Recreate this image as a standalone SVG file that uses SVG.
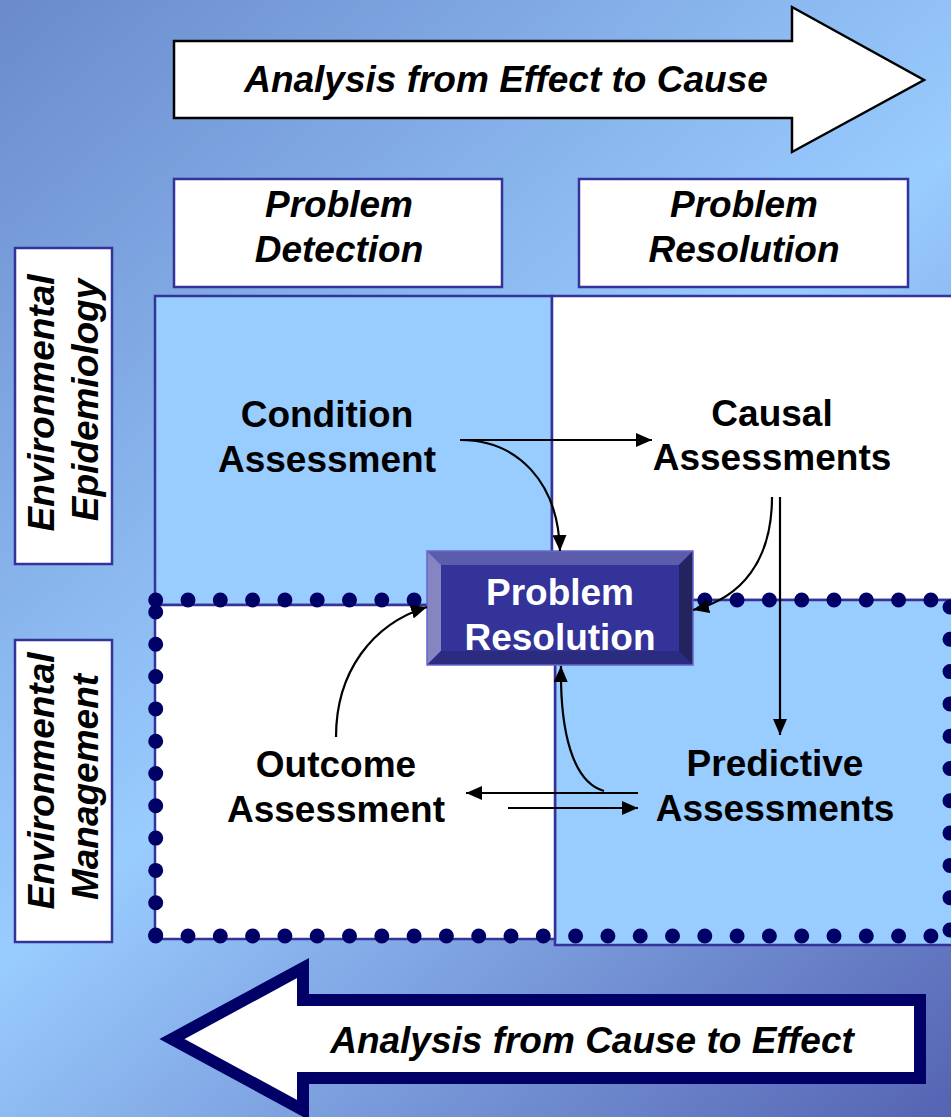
<svg xmlns="http://www.w3.org/2000/svg" width="951" height="1117" viewBox="0 0 951 1117">
<defs>
<linearGradient id="bg" x1="0" y1="0" x2="951" y2="1117" gradientUnits="userSpaceOnUse">
<stop offset="0" stop-color="#6a8acb"/>
<stop offset="0.5" stop-color="#99ccff"/>
<stop offset="1" stop-color="#5563b2"/>
</linearGradient>
<marker id="ah" viewBox="0 0 16 14" refX="16" refY="7" markerWidth="16" markerHeight="14" markerUnits="userSpaceOnUse" orient="auto">
<path d="M0,0 L16,7 L0,14 Z" fill="#000"/>
</marker>
<style>
.t{font-family:"Liberation Sans",Arial,sans-serif;font-weight:bold;font-size:37px;fill:#000;text-anchor:middle}
.i{font-style:italic}
.w{fill:#fff}
.box{fill:#fff;stroke:#333399;stroke-width:2.5}
.q{stroke:#333399;stroke-width:2.5}
.dots{fill:none;stroke:#000066;stroke-width:15;stroke-linecap:round;stroke-dasharray:0 32.3}
.c{fill:none;stroke:#000;stroke-width:2.2;marker-end:url(#ah)}
</style>
</defs>
<rect x="0" y="0" width="951" height="1117" fill="url(#bg)"/>

<g id="arrow-effect-to-cause">
<path d="M174,41 L792,41 L792,7 L924,80 L792,152 L792,118 L174,118 Z" fill="#fff" stroke="#000" stroke-width="2.5"/>
<text class="t i" x="506" y="92">Analysis from Effect to Cause</text>
</g>

<g id="arrow-cause-to-effect">
<path d="M172,1039 L303,968 L303,1000 L920,1000 L920,1078 L303,1078 L303,1110 Z" fill="#fff" stroke="#000066" stroke-width="12"/>
<text class="t i" x="592" y="1053">Analysis from Cause to Effect</text>
</g>

<g id="header-detection">
<rect class="box" x="174" y="179" width="328" height="108"/>
<text class="t i" x="339" y="217">Problem</text>
<text class="t i" x="339" y="262">Detection</text>
</g>
<g id="header-resolution">
<rect class="box" x="579" y="179" width="329" height="108"/>
<text class="t i" x="744" y="217">Problem</text>
<text class="t i" x="744" y="262">Resolution</text>
</g>

<g id="label-epidemiology">
<rect class="box" x="15" y="248" width="97" height="316"/>
<text class="t i" transform="translate(53.5,403) rotate(-90)">Environmental</text>
<text class="t i" transform="translate(98,400) rotate(-90)">Epidemiology</text>
</g>
<g id="label-management">
<rect class="box" x="15" y="640" width="97" height="302"/>
<text class="t i" transform="translate(53.5,781) rotate(-90)">Environmental</text>
<text class="t i" transform="translate(98,787) rotate(-90)">Management</text>
</g>

<g id="quadrants">
<rect class="q" x="155" y="296" width="397" height="309" fill="#99ccff"/>
<rect class="q" x="552" y="296" width="410" height="304" fill="#fff"/>
<rect class="q" x="555" y="600" width="407" height="345" fill="#99ccff"/>
<rect class="q" x="155" y="605" width="400" height="334" fill="#fff"/>
<path class="dots" d="M155.7,600 H951"/>
<path class="dots" d="M155.7,612 V940"/>
<path class="dots" d="M155.7,936 H951"/>
<path class="dots" d="M950,607 V940"/>
</g>

<g id="condition-assessment">
<text class="t" x="327" y="427">Condition</text>
<text class="t" x="327" y="472">Assessment</text>
</g>
<g id="causal-assessments">
<text class="t" x="772" y="426">Causal</text>
<text class="t" x="772" y="470">Assessments</text>
</g>
<g id="outcome-assessment">
<text class="t" x="336" y="777">Outcome</text>
<text class="t" x="336" y="822">Assessment</text>
</g>
<g id="predictive-assessments">
<text class="t" x="775" y="776">Predictive</text>
<text class="t" x="775" y="821">Assessments</text>
</g>

<g id="problem-resolution">
<rect x="427" y="551" width="266" height="114" fill="#333399"/>
<polygon points="427,551 693,551 679,565 441,565" fill="#5c5cad"/>
<polygon points="427,551 441,565 441,651 427,665" fill="#8585c2"/>
<polygon points="693,551 693,665 679,651 679,565" fill="#23235f"/>
<polygon points="427,665 441,651 679,651 693,665" fill="#2b2b80"/>
<rect x="427" y="551" width="266" height="114" fill="none" stroke="#6666cc" stroke-width="1.5"/>
<text class="t w" x="560" y="605">Problem</text>
<text class="t w" x="560" y="650">Resolution</text>
</g>

<g id="connectors">
<path class="c" d="M460,440 L652,440"/>
<path class="c" d="M460,440 C518,440 558,482 560,551"/>
<path class="c" d="M780,497 L780,735"/>
<path class="c" d="M772,497 C772,560 742,598 693,610"/>
<path class="c" d="M638,793 L466,793"/>
<path class="c" d="M508,808 L638,808"/>
<path class="c" d="M604,791 C572,782 560,730 561,666"/>
<path class="c" d="M336,737 C336,672 372,624 427,607"/>
</g>
</svg>
